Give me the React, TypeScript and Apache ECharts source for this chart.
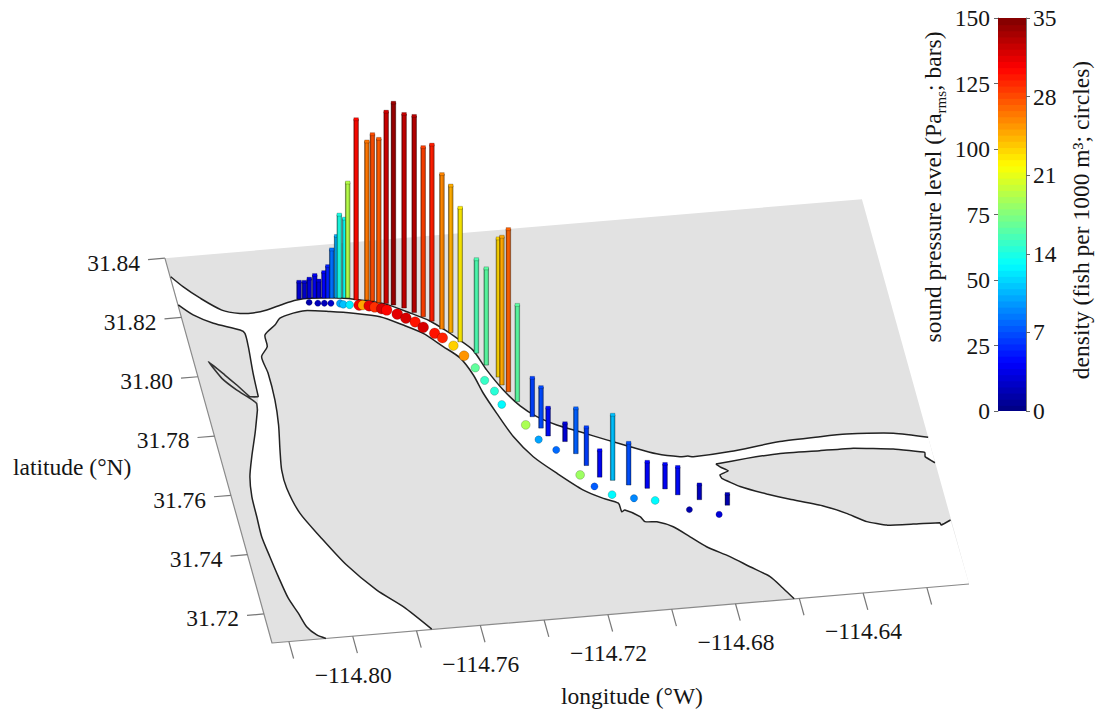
import React, { useEffect, useRef } from "react";
import * as echarts from "echarts";

// ---------- data (longitude °W as negative, latitude °N) ----------
const barLon = [-114.7877,-114.7860,-114.7845,-114.7828,-114.7816,-114.7800,-114.7788,-114.7776,-114.7761,-114.7753,-114.7736,-114.7727,-114.7703,-114.7670,-114.7654,-114.7636,-114.7614,-114.7593,-114.7563,-114.7536,-114.7512,-114.7489,-114.7465,-114.7441,-114.7420,-114.7380,-114.7360,-114.7333,-114.7329,-114.7315,-114.7296,-114.7263,-114.7246,-114.7231,-114.7184,-114.7161,-114.7139,-114.7108,-114.7071,-114.7026,-114.6972,-114.6918,-114.6884,-114.6822,-114.6741];
const barLat = [31.8228,31.8228,31.8228,31.8227,31.8226,31.8224,31.8223,31.8222,31.8221,31.8220,31.8219,31.8218,31.8209,31.8206,31.8201,31.8193,31.8189,31.8182,31.8169,31.8151,31.8135,31.8118,31.8089,31.8075,31.8042,31.8000,31.7958,31.7915,31.7888,31.7864,31.7829,31.7775,31.7735,31.7707,31.7684,31.7641,31.7599,31.7557,31.7543,31.7523,31.7507,31.7500,31.7477,31.7455,31.7429];
const soundPressure = [12.4,12,14,16.5,12.5,18.7,23,35,44.6,60,57,83,130,114,120,118,138,145.5,139.6,141.5,122,127,111.5,105.8,96.4,67.6,69.6,99.8,106.7,117,69.6,28,29.5,20.4,13.2,32.7,27.6,19.4,47.2,30.4,19.1,18,20.1,11,8.1];

const circleLon = [-114.7849,-114.7823,-114.7803,-114.7783,-114.7755,-114.7746,-114.7727,-114.7698,-114.7687,-114.7668,-114.7652,-114.7632,-114.7618,-114.7589,-114.7566,-114.7541,-114.7521,-114.7491,-114.7471,-114.7444,-114.7420,-114.7396,-114.7378,-114.7357,-114.7346,-114.7290,-114.7263,-114.7218,-114.7166,-114.7132,-114.7085,-114.7021,-114.6958,-114.6861,-114.6774];
const circleLat = [31.8214,31.8209,31.8207,31.8205,31.8202,31.8198,31.8195,31.8191,31.8190,31.8186,31.8180,31.8173,31.8167,31.8151,31.8135,31.8120,31.8100,31.8077,31.8060,31.8031,31.7995,31.7952,31.7908,31.7870,31.7824,31.7750,31.7698,31.7659,31.7570,31.7528,31.7496,31.7478,31.7465,31.7425,31.7401];
const fishDensity = [1.5,2,2,2.5,10,11,12.5,31,25,31.5,29,32,30.5,31.5,32,30,32,30,29.5,23.5,25.5,16.5,15,14.5,13,19,10,8,18.5,7.5,13,9,13,1.5,3];

const northShore = [[-114.8251,31.8337],[-114.8222,31.8301],[-114.8180,31.8259],[-114.8123,31.8213],[-114.8070,31.8197],[-114.8030,31.8195],[-114.7985,31.8201],[-114.7929,31.8216],[-114.7885,31.8225],[-114.7843,31.8227],[-114.7751,31.8220],[-114.7691,31.8208],[-114.7618,31.8188],[-114.7549,31.8151],[-114.7495,31.8119],[-114.7452,31.8081],[-114.7427,31.8055],[-114.7388,31.8011],[-114.7363,31.7942],[-114.7329,31.7871],[-114.7291,31.7814],[-114.7249,31.7774],[-114.7195,31.7741],[-114.7130,31.7712],[-114.7055,31.7678],[-114.6989,31.7649],[-114.6914,31.7618],[-114.6845,31.7602],[-114.6820,31.7602],[-114.6804,31.7598],[-114.6687,31.7605],[-114.6526,31.7624],[-114.6399,31.7629],[-114.6315,31.7630],[-114.6171,31.7620],[-114.6068,31.7597]];
const montagueShore = [[-114.7752,31.7103],[-114.7820,31.7185],[-114.7887,31.7247],[-114.7958,31.7338],[-114.8015,31.7439],[-114.8057,31.7522],[-114.8076,31.7608],[-114.8076,31.7669],[-114.8064,31.7736],[-114.8047,31.7819],[-114.8037,31.7902],[-114.8035,31.7992],[-114.8041,31.8048],[-114.8015,31.8080],[-114.8012,31.8119],[-114.7973,31.8149],[-114.7952,31.8170],[-114.7907,31.8183],[-114.7869,31.8188],[-114.7793,31.8178],[-114.7723,31.8166],[-114.7644,31.8147],[-114.7580,31.8113],[-114.7526,31.8080],[-114.7476,31.8031],[-114.7434,31.7989],[-114.7408,31.7929],[-114.7393,31.7866],[-114.7369,31.7796],[-114.7338,31.7715],[-114.7294,31.7643],[-114.7236,31.7582],[-114.7169,31.7519],[-114.7115,31.7486],[-114.7073,31.7466],[-114.7070,31.7437],[-114.7059,31.7442],[-114.7018,31.7416],[-114.7007,31.7398],[-114.6971,31.7394],[-114.6925,31.7373],[-114.6882,31.7335],[-114.6840,31.7298],[-114.6777,31.7259],[-114.6724,31.7220],[-114.6671,31.7182],[-114.6641,31.7140],[-114.6616,31.7102]];
const eastIslandNorth = [[-114.6741,31.7568],[-114.6642,31.7578],[-114.6535,31.7585],[-114.6411,31.7583],[-114.6307,31.7582],[-114.6185,31.7568],[-114.6091,31.7548],[-114.6094,31.7534],[-114.6069,31.7511]];
const eastIslandSouth = [[-114.6070,31.7318],[-114.6103,31.7304],[-114.6105,31.7312],[-114.6188,31.7315],[-114.6270,31.7319],[-114.6328,31.7336],[-114.6383,31.7369],[-114.6448,31.7400],[-114.6544,31.7431],[-114.6611,31.7455],[-114.6686,31.7487],[-114.6735,31.7519],[-114.6738,31.7531],[-114.6709,31.7542],[-114.6726,31.7554],[-114.6741,31.7568]];
const westShoreUpper = [[-114.8252,31.8242],[-114.8215,31.8205],[-114.8160,31.8172],[-114.8084,31.8142],[-114.8072,31.8130],[-114.8073,31.8085],[-114.8081,31.7996],[-114.8085,31.7917]];
const creek = [[-114.8085,31.7917],[-114.8111,31.7920],[-114.8141,31.7962],[-114.8169,31.7998],[-114.8208,31.8047],[-114.8181,31.7988],[-114.8146,31.7946],[-114.8112,31.7914],[-114.8096,31.7896],[-114.8099,31.7874]];
const westShoreLower = [[-114.8099,31.7874],[-114.8126,31.7798],[-114.8156,31.7722],[-114.8179,31.7656],[-114.8190,31.7590],[-114.8192,31.7523],[-114.8194,31.7455],[-114.8186,31.7387],[-114.8177,31.7319],[-114.8165,31.7245],[-114.8147,31.7193],[-114.8133,31.7146],[-114.8109,31.7116],[-114.8084,31.7102]];

const lonTicks = [-114.82,-114.80,-114.78,-114.76,-114.74,-114.72,-114.70,-114.68,-114.66,-114.64,-114.62];
const lonLabels = ["","−114.80","","−114.76","","−114.72","","−114.68","","−114.64",""];
const latTicks = [31.84,31.82,31.80,31.78,31.76,31.74,31.72];
const latLabels = ["31.84","31.82","31.80","31.78","31.76","31.74","31.72"];
const islandName = { text: "Isla Montague", lon: -114.7605, lat: 31.7542 };

// ---------- scene ----------
const LON_MIN = -114.8253, LON_MAX = -114.6068, LAT_MIN = 31.7102, LAT_MAX = 31.84;
const SPL_MAX = 150, DENSITY_MAX = 35, PX_PER_PA = 1.39;
const FONT = "'Liberation Serif', 'Times New Roman', serif";
const FS = 23.5, INK = "#151515";

function project(lon: number, lat: number): number[] {
  const a = lon - LON_MIN, b = lat - LAT_MIN;
  return [272 + a * 3190 - b * 825, 643 - a * 270 - b * 2965];
}
function jet(t: number): string {
  const c = (v: number) => Math.round(255 * Math.max(0, Math.min(1, v)));
  return `rgb(${c(1.5 - Math.abs(4 * t - 3))},${c(1.5 - Math.abs(4 * t - 2))},${c(1.5 - Math.abs(4 * t - 1))})`;
}
const text = (t: string, x: number, y: number, align: string, va = "middle") => ({
  type: "text", silent: true,
  style: { text: t, x, y, fill: INK, fontFamily: FONT, fontSize: FS, align, textAlign: align, verticalAlign: va, textVerticalAlign: va },
});
const BANDS = Array.from({ length: 64 }, (_, i) => i);

export default function App() {
  const ref = useRef<HTMLDivElement>(null);
  useEffect(() => {
    const chart = echarts.init(ref.current!, undefined, { renderer: "svg" });
    const line = (pts: number[][], api: any, width = 1.5, stroke = "#222222", smooth = 0.25) => ({
      type: "polyline", silent: true,
      shape: { points: pts.map((p) => api.coord(project(p[0], p[1]))), smooth },
      style: { fill: "none", stroke, lineWidth: width, lineJoin: "round" },
    });
    const sideShade = new echarts.graphic.LinearGradient(0, 0, 1, 0, [
      { offset: 0, color: "rgba(0,0,0,0.38)" },
      { offset: 0.4, color: "rgba(0,0,0,0)" },
      { offset: 1, color: "rgba(0,0,0,0.2)" },
    ]);
    const option: any = {
      animation: false,
      backgroundColor: "#fff",
      grid: [
        { left: 0, top: 0, width: 1096, height: 711, show: false },
        { left: 998, top: 18, width: 28, height: 393, show: false },
      ],
      xAxis: [
        { type: "value", gridIndex: 0, min: 0, max: 1096, show: false },
        { type: "value", gridIndex: 1, min: 0, max: 1, show: false },
      ],
      yAxis: [
        { type: "value", gridIndex: 0, min: 0, max: 711, inverse: true, show: false },
        {
          type: "value", gridIndex: 1, min: 0, max: SPL_MAX, interval: 25, position: "left",
          axisLine: { show: true, lineStyle: { color: "#777", width: 1 } },
          axisTick: { show: true, length: 4, lineStyle: { color: "#666" } },
          axisLabel: { color: INK, fontFamily: FONT, fontSize: FS, margin: 8 },
          splitLine: { show: false },
        },
        {
          type: "value", gridIndex: 1, min: 0, max: DENSITY_MAX, interval: 7, position: "right",
          axisLine: { show: true, lineStyle: { color: "#777", width: 1 } },
          axisTick: { show: true, length: 4, lineStyle: { color: "#666" } },
          axisLabel: { color: INK, fontFamily: FONT, fontSize: FS, margin: 7 },
          splitLine: { show: false },
        },
      ],
      series: [
        {
          // ground plane, water and shorelines
          type: "custom", xAxisIndex: 0, yAxisIndex: 0, silent: true, z: 1, data: [[0, 0]],
          renderItem: (_p: any, api: any) => {
            const corners = [[LON_MIN, LAT_MAX], [LON_MAX, LAT_MAX], [LON_MAX, LAT_MIN], [LON_MIN, LAT_MIN]];
            const water = [
              ...northShore,
              ...[...eastIslandNorth].reverse(),
              ...[...eastIslandSouth].reverse(),
              [LON_MAX, LAT_MIN],
              ...[...montagueShore].reverse(),
              ...[...westShoreLower].reverse(),
              ...[...westShoreUpper].reverse(),
            ];
            const P = (pts: number[][]) => pts.map((p) => api.coord(project(p[0], p[1])));
            return {
              type: "group",
              children: [
                { type: "polygon", silent: true, shape: { points: P(corners) }, style: { fill: "#e2e2e2" } },
                { type: "polygon", silent: true, shape: { points: P(water) }, style: { fill: "#ffffff" } },
                line([corners[0], corners[3], corners[2]], api, 1.2, "#8a8a8a", 0),
                line(northShore, api), line(montagueShore, api),
                line(eastIslandNorth, api, 1.5, "#222222", 0.1), line(eastIslandSouth, api, 1.5, "#222222", 0.1),
                line(westShoreUpper, api), line(creek, api, 1.6, "#333333", 0.1), line(westShoreLower, api),
              ],
            };
          },
        },
        {
          // longitude ticks and labels
          type: "custom", xAxisIndex: 0, yAxisIndex: 0, silent: true, z: 2, data: lonTicks.map((v) => [v, LAT_MIN]),
          renderItem: (p: any, api: any) => {
            const lon = api.value(0);
            const a = api.coord(project(lon, LAT_MIN));
            const b = api.coord(project(lon, LAT_MIN - 0.0057));
            return {
              type: "group",
              children: [
                { type: "line", silent: true, shape: { x1: a[0], y1: a[1], x2: b[0], y2: b[1] }, style: { stroke: "#777", lineWidth: 1.2 } },
                text(lonLabels[p.dataIndex], a[0] + 0.5, a[1] + 38.5, "center"),
              ],
            };
          },
        },
        {
          // latitude ticks and labels
          type: "custom", xAxisIndex: 0, yAxisIndex: 0, silent: true, z: 2, data: latTicks.map((v) => [LON_MIN, v]),
          renderItem: (p: any, api: any) => {
            const lat = api.value(1);
            const a = api.coord(project(LON_MIN, lat));
            const b = api.coord(project(LON_MIN - 0.0053, lat));
            return {
              type: "group",
              children: [
                { type: "line", silent: true, shape: { x1: a[0], y1: a[1], x2: b[0], y2: b[1] }, style: { stroke: "#777", lineWidth: 1.2 } },
                text(latLabels[p.dataIndex], b[0] - 8, b[1] + 3, "right"),
              ],
            };
          },
        },
        {
          // density circles
          type: "custom", xAxisIndex: 0, yAxisIndex: 0, silent: true, z: 3,
          data: circleLon.map((v, i) => [v, circleLat[i], fishDensity[i]]),
          renderItem: (_p: any, api: any) => {
            const c = api.coord(project(api.value(0), api.value(1)));
            const d = api.value(2);
            return {
              type: "circle", silent: true,
              shape: { cx: c[0], cy: c[1], r: 3 + 0.075 * d },
              style: { fill: jet(d / DENSITY_MAX), stroke: "rgba(0,0,0,0.28)", lineWidth: 0.7 },
            };
          },
        },
        {
          // sound-pressure bars
          type: "custom", xAxisIndex: 0, yAxisIndex: 0, silent: true, z: 4,
          data: barLon.map((v, i) => [v, barLat[i], soundPressure[i]]),
          renderItem: (_p: any, api: any) => {
            const c = api.coord(project(api.value(0), api.value(1)));
            const v = api.value(2);
            const h = v * PX_PER_PA, w = 4.6;
            const fill = jet(v / SPL_MAX);
            return {
              type: "group",
              children: [
                { type: "rect", silent: true, shape: { x: c[0] - w / 2, y: c[1] - h, width: w, height: h }, style: { fill } },
                { type: "rect", silent: true, shape: { x: c[0] - w / 2, y: c[1] - h, width: w, height: h }, style: { fill: sideShade, stroke: "rgba(0,0,0,0.42)", lineWidth: 0.8 } },
                { type: "rect", silent: true, shape: { x: c[0] - w / 2, y: c[1] - h - 1.5, width: w, height: 3 }, style: { fill, stroke: "rgba(0,0,0,0.35)", lineWidth: 0.6 } },
              ],
            };
          },
        },
        {
          // colour bar
          type: "custom", xAxisIndex: 1, yAxisIndex: 1, silent: true, z: 2,
          data: BANDS.map((i) => [i]),
          renderItem: (p: any, api: any) => {
            const i = p.dataIndex;
            const a = api.coord([0, (i / BANDS.length) * SPL_MAX]);
            const b = api.coord([1, ((i + 1) / BANDS.length) * SPL_MAX]);
            return {
              type: "rect", silent: true,
              shape: { x: a[0], y: b[1], width: b[0] - a[0], height: a[1] - b[1] + (i === 0 ? 0 : 1) },
              style: { fill: jet((i + 0.5) / BANDS.length) },
            };
          },
        },
      ],
      graphic: [
        text(islandName.text, ...(project(islandName.lon, islandName.lat) as [number, number]), "center"),
        text("latitude (°N)", 13, 467, "left"),
        text("longitude (°W)", 632, 696, "center"),
        {
          type: "text", x: 933, y: 187, rotation: Math.PI / 2, silent: true,
          style: {
            text: "{a|sound pressure level (Pa}{b|rms}{a|; bars)}",
            align: "center", textAlign: "center", verticalAlign: "middle", textVerticalAlign: "middle",
            rich: {
              a: { fontFamily: FONT, fontSize: FS, fill: INK, color: INK, lineHeight: 30 },
              b: { fontFamily: FONT, fontSize: 15, fill: INK, color: INK, lineHeight: 14, verticalAlign: "bottom" },
            },
          },
        },
        {
          type: "text", x: 1081, y: 220, rotation: Math.PI / 2, silent: true,
          style: {
            text: "density (fish per 1000 m³; circles)",
            fontFamily: FONT, fontSize: FS, fill: INK,
            align: "center", textAlign: "center", verticalAlign: "middle", textVerticalAlign: "middle",
          },
        },
      ],
    };
    chart.setOption(option);
    return () => chart.dispose();
  }, []);
  return <div ref={ref} style={{ position: "absolute", left: 0, top: 0, width: 1096, height: 711 }} />;
}
